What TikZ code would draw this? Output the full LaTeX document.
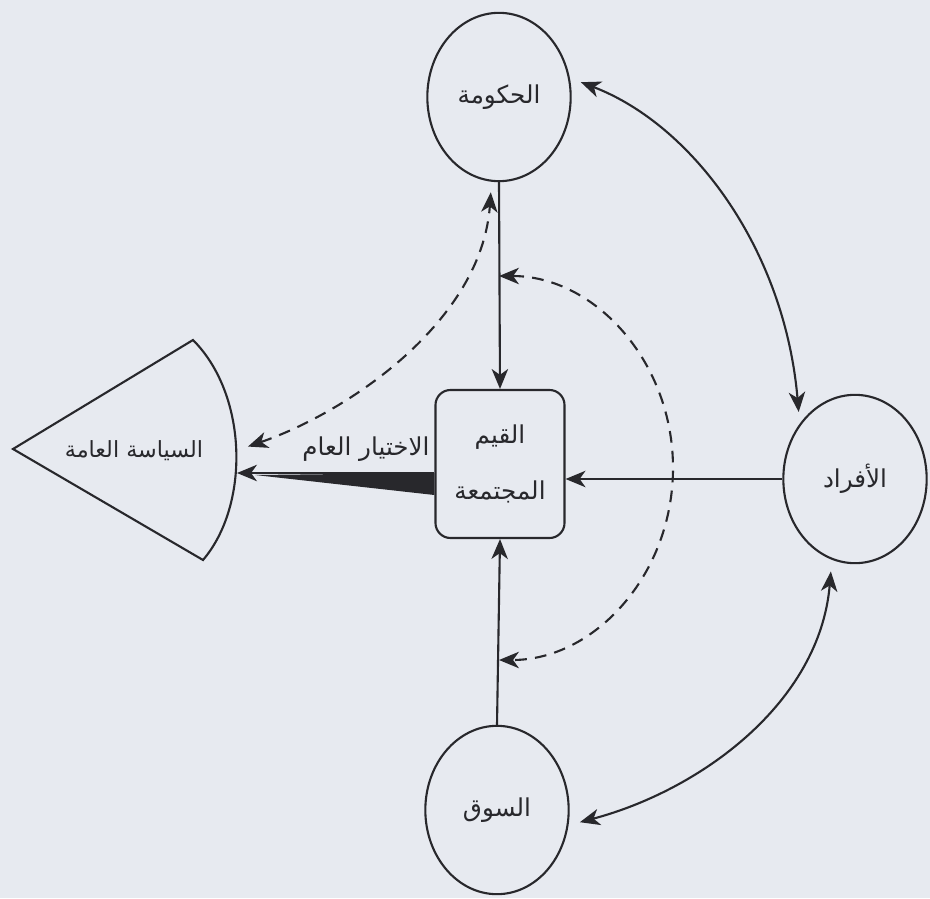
\documentclass[tikz,border=0pt]{standalone}
\usepackage{fontspec}
\usetikzlibrary{shapes.geometric,arrows.meta}
\newfontfamily\arabicfont[Script=Arabic]{DejaVu Sans}
\TeXXeTstate=1
\definecolor{paper}{RGB}{231,234,240}
\definecolor{ink}{RGB}{40,40,44}

\begin{document}
\begin{tikzpicture} [x=0.03cm, y=-0.03cm,
                     circ/.style= {shape=ellipse, draw=ink, line width=1.8pt,
                                   minimum width=4.3cm, minimum height=5.05cm,
                                   inner sep=0, font=\arabicfont\fontsize{21}{25}\selectfont,
                                   text=ink},
                     vbox/.style= {shape=rectangle, rounded corners=0.45cm, draw=ink,
                                   line width=1.8pt, minimum width=3.87cm,
                                   minimum height=4.44cm, align=center,
                                   font=\arabicfont\fontsize{21}{48}\selectfont, text=ink},
                     lbl/.style= {font=\arabicfont\fontsize{21}{25}\selectfont, text=ink},
                     arr/.style= {draw=ink, line width=1.8pt, -{Stealth[length=17pt,width=14pt,inset=5pt]}},
                     darr/.style= {draw=ink, line width=1.8pt, dash pattern=on 10pt off 7pt,
                                   {Stealth[length=17pt,width=14pt,inset=5pt]}-{Stealth[length=17pt,width=14pt,inset=5pt]},
                                   shorten <=9pt, shorten >=9pt},
                     both/.style= {draw=ink, line width=1.8pt,
                                   {Stealth[length=17pt,width=14pt,inset=5pt]}-{Stealth[length=17pt,width=14pt,inset=5pt]},
                                   shorten <=10pt, shorten >=10pt}]

\fill[paper] (0,0) rectangle (930,898);
\useasboundingbox (0,0) rectangle (930,898);

\foreach \nm/\px/\py/\txt in {gov/499/97/الحكومة, ind/855/479/الأفراد, mkt/497/810/السوق}{%
    \node[circ] (\nm) at (\px,\py) {\beginR\txt\endR};}

\node[vbox] (vals) at (500,464) {\beginR القيم\endR\\\beginR المجتمعة\endR};

\draw[ink, line width=1.8pt, fill=paper] (13,449) -- (193,340)
    .. controls (248,395) and (250,505) .. (203,560) -- cycle;
\node[lbl, font=\arabicfont\fontsize{19}{22}\selectfont] (policy) at (134,451) {\beginR السياسة العامة\endR};
\coordinate (choice) at (237,473);
\coordinate (pubA) at (238,450);

\node[lbl] (pubchoice) at (366,449) {\beginR الاختيار العام\endR};
\fill[ink] (vals.west |- choice) -- ++(0,22) -- (255,475) -- cycle;
\draw[arr] (vals.west |- choice) -- (choice);

\draw[arr] (gov.south) -- (vals.north);
\draw[arr] (mkt.north) -- (vals.south);
\draw[arr] (ind.west) -- (ind.west -| vals.east);

\coordinate (gv) at (499,276);
\coordinate (mv) at (499,660);
\draw[darr, shorten <=0pt, shorten >=0pt] (gv) .. controls +(96,0) and +(0,-106) .. (673,468)
    .. controls +(0,106) and +(96,0) .. (mv);
\draw[darr] (pubA) .. controls +(110,-38) and +(-10,140) .. (gov.265);

\draw[both] (gov.15) .. controls +(123,47) and +(-15,-174) .. (ind.135);
\draw[both] (mkt.-12) .. controls +(132,-35) and +(-12,143) .. (ind.-106);
\end{tikzpicture}
\end{document}
